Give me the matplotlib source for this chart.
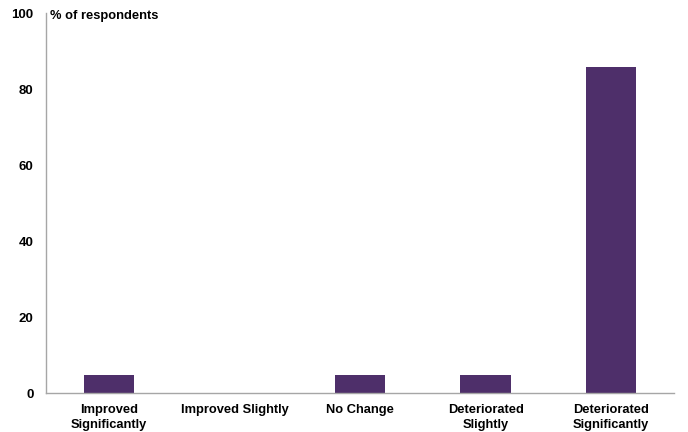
import matplotlib.pyplot as plt

categories = ['Improved\nSignificantly', 'Improved Slightly', 'No Change',
              'Deteriorated\nSlightly', 'Deteriorated\nSignificantly']
values = [4.76, 0, 4.76, 4.76, 85.71]
yticks = [0, 20, 40, 60, 80, 100]

plt.rcParams['font.family'] = ['Liberation Sans', 'DejaVu Sans']

fig = plt.figure(figsize=(6.88, 4.32), dpi=100)
ax = fig.add_axes([46 / 688, 39 / 432, 628 / 688, 380 / 432])

ax.bar(range(len(values)), values, width=0.4, color='#4E2F6A')

ax.set_xlim(-0.5, len(values) - 0.5)
ax.set_ylim(0, 100)
ax.set_yticks(yticks)
ax.set_yticklabels([str(t) for t in yticks], fontsize=9.5, fontweight='bold')
ax.set_xticks(range(len(values)))
ax.set_xticklabels(categories, fontsize=9.3, fontweight='bold', linespacing=1.3)
ax.tick_params(axis='x', length=0, pad=8)
ax.tick_params(axis='y', length=0, pad=9)

for side in ['top', 'right']:
    ax.spines[side].set_visible(False)
for side in ['left', 'bottom']:
    ax.spines[side].set_color('#A6A6A6')
    ax.spines[side].set_linewidth(1)

ax.text(0.007, 0.993, '% of respondents', transform=ax.transAxes,
        fontsize=9.3, fontweight='bold', va='center', ha='left')

fig.savefig('out.png', dpi=100)
